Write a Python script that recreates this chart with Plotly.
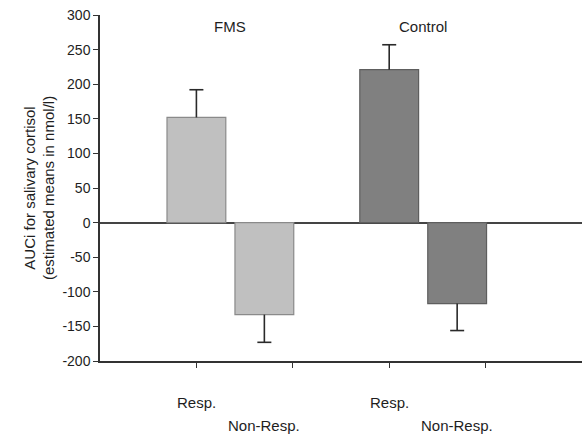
import plotly.graph_objects as go

groups = ["FMS", "Control"]
subgroups = ["Resp.", "Non-Resp."]
means = {"FMS": [152, -133], "Control": [221, -117]}
errors = {"FMS": [40, 40], "Control": [36, 39]}
fill_colors = {"FMS": "#c0c0c0", "Control": "#808080"}
edge_colors = {"FMS": "#8a8a8a", "Control": "#5e5e5e"}
y_ticks = [-200, -150, -100, -50, 0, 50, 100, 150, 200, 250, 300]
y_tick_text = ["-200", "-150", "-100", "-50", "0", "50", "100", "150", "200", "250", "300"]

FONT = "Liberation Sans, Arial, sans-serif"
TXT = "#1e1e1e"

fig = go.Figure()
bar_w = 0.61
sub_offset = 0.705
annotations = []
for gi, g in enumerate(groups):
    base = 1 + 2 * gi
    xs = [base + si * sub_offset for si in range(len(subgroups))]
    vals = means[g]
    errs = errors[g]
    up = [e if v >= 0 else 0 for v, e in zip(vals, errs)]
    down = [e if v < 0 else 0 for v, e in zip(vals, errs)]
    fig.add_trace(go.Bar(
        x=xs, y=vals, width=bar_w,
        marker=dict(color=fill_colors[g], line=dict(color=edge_colors[g], width=1.2)),
        error_y=dict(type="data", symmetric=False, array=up, arrayminus=down,
                     color="#2a2a2a", thickness=1.6, width=0),
        showlegend=False, hoverinfo="skip",
    ))
    ends = [v + u - d for v, u, d in zip(vals, up, down)]
    fig.add_trace(go.Scatter(
        x=xs, y=ends, mode="markers",
        marker=dict(symbol="line-ew", size=10, line=dict(color="#2a2a2a", width=1.6)),
        showlegend=False, hoverinfo="skip",
    ))
    # group label
    annotations.append(dict(x=(xs[0] + xs[-1]) / 2, y=0.968, xref="x", yref="paper",
                            text=g, showarrow=False, xanchor="center", yanchor="middle",
                            font=dict(family=FONT, size=15, color=TXT)))
    for si, s in enumerate(subgroups):
        annotations.append(dict(x=xs[si], y=0, xref="x", yref="paper", text=s,
                                showarrow=False, xanchor="center", yanchor="middle",
                                yshift=-41 - 23 * si,
                                font=dict(family=FONT, size=15, color=TXT)))

fig.update_layout(
    width=582, height=435,
    margin=dict(l=100, r=0, t=15, b=74),
    paper_bgcolor="white", plot_bgcolor="white",
    barmode="overlay",
    annotations=annotations,
    font=dict(family=FONT, color=TXT),
    xaxis=dict(range=[0, 5], tickvals=[1, 2, 3, 4], ticktext=["", "", "", ""],
               ticks="outside", ticklen=5, tickwidth=1.4, tickcolor="#333",
               showline=True, linecolor="#333", linewidth=1.5,
               showgrid=False, zeroline=False, fixedrange=True),
    yaxis=dict(range=[-200, 300], tickvals=y_ticks, ticktext=y_tick_text,
               ticks="outside", ticklen=5, tickwidth=1.4, tickcolor="#333",
               showline=True, linecolor="#333", linewidth=1.5,
               showgrid=False, zeroline=True, zerolinecolor="#444", zerolinewidth=1.5,
               tickfont=dict(family=FONT, size=14, color=TXT),
               title=dict(text="AUCi for salivary cortisol<br>(estimated means in nmol/l)",
                          font=dict(family=FONT, size=15, color=TXT), standoff=4),
               fixedrange=True),
)

fig.write_html("out.html")
